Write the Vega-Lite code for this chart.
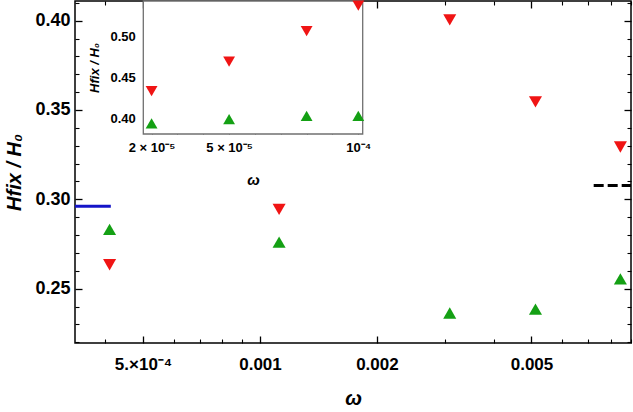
{
  "$schema": "https://vega.github.io/schema/vega-lite/v6.json",
  "width": 556,
  "height": 342,
  "autosize": "none",
  "padding": {"left": 75, "top": 1, "right": 2, "bottom": 69},
  "background": "white",
  "config": {
    "view": {"stroke": "black", "strokeWidth": 1.5},
    "axis": {"labelFont": "Liberation Sans", "titleFont": "Liberation Sans", "grid": false, "domain": false, "ticks": true, "tickColor": "black", "tickOpacity": 1, "labelColor": "black", "titleColor": "black", "labelOverlap": false, "labelBound": false, "labelFlush": false, "tickWidth": 1.3}
  },
  "datasets": {
    "main": [
      {"omega": 0.00041, "series": "up", "h": 0.2832},
      {"omega": 0.00041, "series": "down", "h": 0.2634},
      {"omega": 0.00112, "series": "down", "h": 0.2944},
      {"omega": 0.00112, "series": "up", "h": 0.276},
      {"omega": 0.00308, "series": "down", "h": 0.4004},
      {"omega": 0.00308, "series": "up", "h": 0.2364},
      {"omega": 0.00512, "series": "down", "h": 0.3545},
      {"omega": 0.00512, "series": "up", "h": 0.2385},
      {"omega": 0.00847, "series": "down", "h": 0.3293},
      {"omega": 0.00847, "series": "up", "h": 0.2555}
    ],
    "inset": [
      {"omega": 0.00002, "series": "down", "h": 0.433},
      {"omega": 0.00005, "series": "down", "h": 0.469},
      {"omega": 0.00008, "series": "down", "h": 0.506},
      {"omega": 0.0001, "series": "down", "h": 0.537},
      {"omega": 0.00002, "series": "up", "h": 0.394},
      {"omega": 0.00005, "series": "up", "h": 0.399},
      {"omega": 0.00008, "series": "up", "h": 0.403},
      {"omega": 0.0001, "series": "up", "h": 0.403}
    ],
    "refs": [
      {"x1": 0.000334, "x2": 0.000413, "y": 0.2962, "kind": "solid"},
      {"x1": 0.00723, "x2": 0.00902, "y": 0.3078, "kind": "dashed"}
    ],
    "frame": [
      {"x1": 0.0000168, "x2": 0.0001017, "y1": 0.381, "y2": 0.5425}
    ]
  },
  "layer": [
    {
      "layer": [
        {
          "data": {"name": "refs"},
          "transform": [{"filter": "datum.kind == 'solid'"}],
          "mark": {"type": "rule", "color": "#1414c8", "strokeWidth": 3},
          "encoding": {
            "x": {"field": "x1", "type": "quantitative", "scale": {"type": "log", "domain": [0.000334, 0.00902], "nice": false}},
            "x2": {"field": "x2"},
            "y": {"field": "y", "type": "quantitative", "scale": {"domain": [0.2196, 0.411], "nice": false, "zero": false}}
          }
        },
        {
          "data": {"name": "refs"},
          "transform": [{"filter": "datum.kind == 'dashed'"}],
          "mark": {"type": "rule", "color": "black", "strokeWidth": 3, "strokeDash": [10, 4]},
          "encoding": {
            "x": {"field": "x1", "type": "quantitative", "scale": {"type": "log", "domain": [0.000334, 0.00902], "nice": false}},
            "x2": {"field": "x2"},
            "y": {"field": "y", "type": "quantitative", "scale": {"domain": [0.2196, 0.411], "nice": false, "zero": false}}
          }
        },
        {
          "data": {"name": "main"},
          "mark": {"type": "point", "filled": true, "opacity": 1, "size": 170},
          "encoding": {
            "x": {
              "field": "omega", "type": "quantitative",
              "scale": {"type": "log", "domain": [0.000334, 0.00902], "nice": false},
              "axis": {
                "orient": "bottom",
                "values": [0.0005, 0.001, 0.002, 0.005],
                "labelExpr": "datum.value == 0.0005 ? '5.×10⁻⁴' : format(datum.value, '.3f')",
                "ticks": false,
                "labelPadding": 13,
                "labelFontSize": 17,
                "labelFontWeight": "bold",
                "title": "ω",
                "titleFontSize": 20,
                "titleFontStyle": "italic",
                "titleFontWeight": "bold",
                "titlePadding": 16
              }
            },
            "y": {
              "field": "h", "type": "quantitative",
              "scale": {"domain": [0.2196, 0.411], "nice": false, "zero": false},
              "axis": {
                "orient": "left",
                "values": [0.25, 0.3, 0.35, 0.4],
                "format": ".2f",
                "ticks": false,
                "labelPadding": 5,
                "labelFontSize": 18,
                "labelFontWeight": "bold",
                "title": "Hfix / H₀",
                "titleFontSize": 20,
                "titleFontStyle": "italic",
                "titleFontWeight": "bold",
                "titlePadding": 10
              }
            },
            "shape": {"field": "series", "type": "nominal", "scale": {"domain": ["up", "down"], "range": ["triangle-up", "triangle-down"]}, "legend": null},
            "color": {"field": "series", "type": "nominal", "scale": {"domain": ["up", "down"], "range": ["#14a014", "#f01414"]}, "legend": null}
          }
        }
      ]
    },
    {
      "data": {"name": "main"},
      "mark": {"type": "point", "opacity": 0},
      "encoding": {
        "x": {
          "field": "omega", "type": "quantitative",
          "scale": {"type": "log", "domain": [0.000334, 0.00902], "nice": false},
          "axis": {"orient": "top", "offset": -342, "labels": false, "title": null, "values": [0.0005, 0.001, 0.002, 0.005], "tickSize": 7}
        },
        "y": {
          "field": "h", "type": "quantitative",
          "scale": {"domain": [0.2196, 0.411], "nice": false, "zero": false},
          "axis": {"orient": "right", "offset": -556, "labels": false, "title": null, "values": [0.25, 0.3, 0.35, 0.4], "tickSize": 7}
        }
      }
    },
    {
      "data": {"name": "main"},
      "mark": {"type": "point", "opacity": 0},
      "encoding": {
        "x": {
          "field": "omega", "type": "quantitative",
          "scale": {"type": "log", "domain": [0.000334, 0.00902], "nice": false},
          "axis": {"orient": "bottom", "offset": -342, "labels": false, "title": null, "values": [0.0005, 0.001, 0.002, 0.005], "tickSize": 7}
        },
        "y": {
          "field": "h", "type": "quantitative",
          "scale": {"domain": [0.2196, 0.411], "nice": false, "zero": false},
          "axis": {"orient": "left", "offset": -556, "labels": false, "title": null, "values": [0.25, 0.3, 0.35, 0.4], "tickSize": 7}
        }
      }
    },
    {
      "data": {"name": "main"},
      "mark": {"type": "point", "opacity": 0},
      "encoding": {
        "x": {
          "field": "omega", "type": "quantitative",
          "scale": {"type": "log", "domain": [0.000334, 0.00902], "nice": false},
          "axis": {"orient": "top", "offset": -342, "labels": false, "title": null, "values": [0.0004, 0.0006, 0.0007, 0.0008, 0.0009, 0.003, 0.004, 0.006, 0.007, 0.008, 0.009], "tickSize": 4, "tickWidth": 1.1}
        },
        "y": {
          "field": "h", "type": "quantitative",
          "scale": {"domain": [0.2196, 0.411], "nice": false, "zero": false},
          "axis": {"orient": "right", "offset": -556, "labels": false, "title": null, "values": [0.22, 0.23, 0.24, 0.26, 0.27, 0.28, 0.29, 0.31, 0.32, 0.33, 0.34, 0.36, 0.37, 0.38, 0.39, 0.41], "tickSize": 4, "tickWidth": 1.1}
        }
      }
    },
    {
      "data": {"name": "main"},
      "mark": {"type": "point", "opacity": 0},
      "encoding": {
        "x": {
          "field": "omega", "type": "quantitative",
          "scale": {"type": "log", "domain": [0.000334, 0.00902], "nice": false},
          "axis": {"orient": "bottom", "offset": -342, "labels": false, "title": null, "values": [0.0004, 0.0006, 0.0007, 0.0008, 0.0009, 0.003, 0.004, 0.006, 0.007, 0.008, 0.009], "tickSize": 4, "tickWidth": 1.1}
        },
        "y": {
          "field": "h", "type": "quantitative",
          "scale": {"domain": [0.2196, 0.411], "nice": false, "zero": false},
          "axis": {"orient": "left", "offset": -556, "labels": false, "title": null, "values": [0.22, 0.23, 0.24, 0.26, 0.27, 0.28, 0.29, 0.31, 0.32, 0.33, 0.34, 0.36, 0.37, 0.38, 0.39, 0.41], "tickSize": 4, "tickWidth": 1.1}
        }
      }
    },
    {
      "layer": [
        {
          "data": {"name": "frame"},
          "mark": {"type": "rect", "fill": "white", "stroke": "#707070", "strokeWidth": 1.3},
          "encoding": {
            "x": {"field": "x1", "type": "quantitative", "scale": {"domain": [0.0000168, 0.0001017], "range": [68.3, 287.7], "nice": false, "zero": false}},
            "x2": {"field": "x2"},
            "y": {"field": "y1", "type": "quantitative", "scale": {"domain": [0.381, 0.5425], "range": [133, 0], "nice": false, "zero": false}},
            "y2": {"field": "y2"}
          }
        },
        {
          "data": {"name": "inset"},
          "mark": {"type": "point", "filled": true, "opacity": 1, "size": 140},
          "encoding": {
            "x": {
              "field": "omega", "type": "quantitative",
              "scale": {"domain": [0.0000168, 0.0001017], "range": [68.3, 287.7], "nice": false, "zero": false},
              "axis": {
                "orient": "bottom", "offset": -209,
                "values": [0.00002, 0.00005, 0.0001],
                "labelExpr": "datum.value == 0.00002 ? '2 × 10⁻⁵' : datum.value == 0.00005 ? '5 × 10⁻⁵' : '10⁻⁴'",
                "ticks": false,
                "labelPadding": 7,
                "labelFontSize": 13,
                "labelFontWeight": "bold",
                "title": "ω",
                "titleFontSize": 15,
                "titleFontStyle": "italic",
                "titleFontWeight": "bold",
                "titlePadding": 18
              }
            },
            "y": {
              "field": "h", "type": "quantitative",
              "scale": {"domain": [0.381, 0.5425], "range": [133, 0], "nice": false, "zero": false},
              "axis": {
                "orient": "left", "offset": -68.3,
                "values": [0.4, 0.45, 0.5],
                "format": ".2f",
                "ticks": false,
                "labelPadding": 8,
                "labelFontSize": 13,
                "labelFontWeight": "bold",
                "title": "Hfix / H₀",
                "titleFontSize": 13,
                "titleFontStyle": "italic",
                "titleFontWeight": "bold",
                "titlePadding": 8
              }
            },
            "shape": {"field": "series", "type": "nominal", "scale": {"domain": ["up", "down"], "range": ["triangle-up", "triangle-down"]}, "legend": null},
            "color": {"field": "series", "type": "nominal", "scale": {"domain": ["up", "down"], "range": ["#14a014", "#f01414"]}, "legend": null}
          }
        }
      ]
    },
    {
      "data": {"name": "inset"},
      "mark": {"type": "point", "opacity": 0},
      "encoding": {
        "x": {
          "field": "omega", "type": "quantitative",
          "scale": {"domain": [0.0000168, 0.0001017], "range": [68.3, 287.7], "nice": false, "zero": false},
          "axis": {"orient": "top", "offset": -133, "labels": false, "title": null, "values": [0.00002, 0.00005, 0.0001], "tickSize": 5, "tickColor": "#555555", "tickWidth": 1.1}
        },
        "y": {
          "field": "h", "type": "quantitative",
          "scale": {"domain": [0.381, 0.5425], "range": [133, 0], "nice": false, "zero": false},
          "axis": {"orient": "right", "offset": -487.7, "labels": false, "title": null, "values": [0.4, 0.45, 0.5], "tickSize": 5, "tickColor": "#555555", "tickWidth": 1.1}
        }
      }
    },
    {
      "data": {"name": "inset"},
      "mark": {"type": "point", "opacity": 0},
      "encoding": {
        "x": {
          "field": "omega", "type": "quantitative",
          "scale": {"domain": [0.0000168, 0.0001017], "range": [68.3, 287.7], "nice": false, "zero": false},
          "axis": {"orient": "top", "offset": -133, "labels": false, "title": null, "values": [0.00003, 0.00004, 0.00006, 0.00007, 0.00008, 0.00009], "tickSize": 3, "tickColor": "#555555", "tickWidth": 1}
        },
        "y": {
          "field": "h", "type": "quantitative",
          "scale": {"domain": [0.381, 0.5425], "range": [133, 0], "nice": false, "zero": false},
          "axis": {"orient": "right", "offset": -487.7, "labels": false, "title": null, "values": [0.39, 0.41, 0.42, 0.43, 0.44, 0.46, 0.47, 0.48, 0.49, 0.51, 0.52, 0.53, 0.54], "tickSize": 3, "tickColor": "#555555", "tickWidth": 1}
        }
      }
    }
  ],
  "resolve": {"scale": {"x": "independent", "y": "independent"}}
}
